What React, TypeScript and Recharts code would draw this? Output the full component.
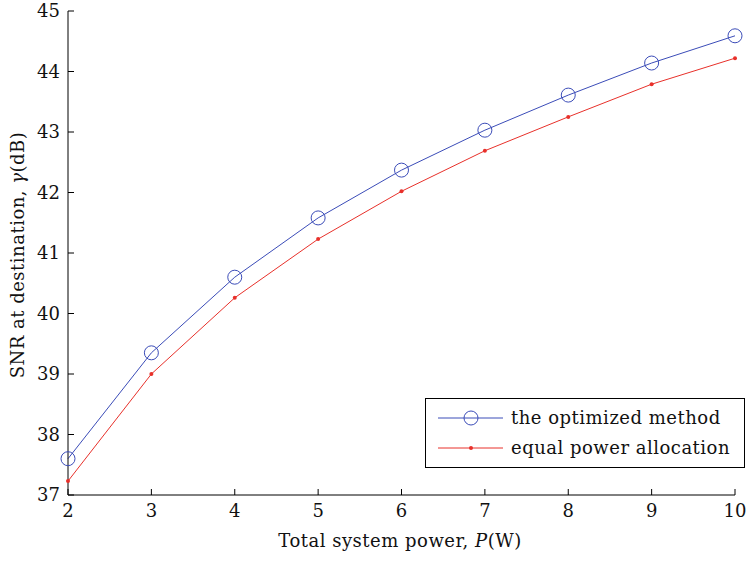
import { Line, LineChart, XAxis, YAxis } from "recharts";

const power = [2, 3, 4, 5, 6, 7, 8, 9, 10];
const optimized = [37.6, 39.35, 40.6, 41.58, 42.37, 43.03, 43.61, 44.14, 44.59];
const equalAlloc = [37.23, 39.0, 40.26, 41.23, 42.02, 42.69, 43.25, 43.79, 44.22];
const yTicks = [37, 38, 39, 40, 41, 42, 43, 44, 45];

const data = power.map((p, i) => ({ p, opt: optimized[i], eq: equalAlloc[i] }));

const FONT = "'DejaVu Serif', 'Liberation Serif', serif";
const FS = 18;
const BLUE = "#3b4cb8";
const RED = "#e8302a";

// ticks point inward like the matlab original, so tick mark + label drawn together
function XTick(props: any) {
  const { x, y, payload } = props;
  return (
    <g>
      <line x1={x} x2={x} y1={y} y2={y - 6} stroke="#000" />
      <text x={x} y={y + 22} textAnchor="middle" fontFamily={FONT} fontSize={FS} fill="#111">
        {payload.value}
      </text>
    </g>
  );
}

function YTick(props: any) {
  const { x, y, payload } = props;
  return (
    <g>
      <line x1={x} x2={x + 6} y1={y} y2={y} stroke="#000" />
      <text x={x - 8} y={y + 6} textAnchor="end" fontFamily={FONT} fontSize={FS} fill="#111">
        {payload.value}
      </text>
    </g>
  );
}

function LegendBox() {
  return (
    <svg width={320} height={70} style={{ position: "absolute", left: 425, top: 398 }}>
      <rect x={0.5} y={0.5} width={319} height={69} fill="#fff" stroke="#000" />
      <line x1={13} x2={78} y1={20} y2={20} stroke={BLUE} strokeWidth={1} />
      <circle cx={46} cy={20} r={7} fill="none" stroke={BLUE} strokeWidth={1} />
      <text x={86} y={26} fontFamily={FONT} fontSize={FS} letterSpacing={0.5} fill="#111">
        the optimized method
      </text>
      <line x1={13} x2={78} y1={50} y2={50} stroke={RED} strokeWidth={1} />
      <circle cx={46} cy={50} r={2} fill={RED} />
      <text x={86} y={56} fontFamily={FONT} fontSize={FS} letterSpacing={0.5} fill="#111">
        equal power allocation
      </text>
    </svg>
  );
}

export default function App() {
  return (
    <div style={{ position: "absolute", left: 0, top: 0, width: 748, height: 561, background: "#fff" }}>
      <LineChart
        width={748}
        height={561}
        data={data}
        margin={{ top: 11, right: 13, bottom: 0, left: 0 }}
      >
        <XAxis
          dataKey="p"
          type="number"
          domain={[2, 10]}
          ticks={power}
          tickSize={0}
          tickMargin={0}
          tickLine={false}
          axisLine={{ stroke: "#000" }}
          tick={<XTick />}
          height={66}
        />
        <YAxis
          type="number"
          domain={[37, 45]}
          ticks={yTicks}
          width={68}
          tickSize={0}
          tickMargin={0}
          tickLine={false}
          axisLine={{ stroke: "#000" }}
          tick={<YTick />}
        />
        <Line
          dataKey="opt"
          stroke={BLUE}
          strokeWidth={1}
          dot={{ r: 7, fill: "none", stroke: BLUE, strokeWidth: 1 }}
          activeDot={false}
          isAnimationActive={false}
        />
        <Line
          dataKey="eq"
          stroke={RED}
          strokeWidth={1}
          dot={{ r: 2, fill: RED, stroke: RED, strokeWidth: 0 }}
          activeDot={false}
          isAnimationActive={false}
        />
      </LineChart>
      <LegendBox />
      <div
        style={{
          position: "absolute",
          left: 0,
          width: 748,
          top: 530,
          paddingLeft: 52,
          boxSizing: "border-box",
          textAlign: "center",
          fontFamily: FONT,
          fontSize: FS,
          letterSpacing: 0.5,
          color: "#111",
          whiteSpace: "nowrap",
        }}
      >
        Total system power, <i>P</i>(W)
      </div>
      <div
        style={{
          position: "absolute",
          left: 17,
          top: 255,
          transform: "translate(-50%, -50%) rotate(-90deg)",
          fontFamily: FONT,
          fontSize: FS,
          letterSpacing: 0.5,
          color: "#111",
          whiteSpace: "nowrap",
        }}
      >
        SNR at destination, <i>γ</i>(dB)
      </div>
    </div>
  );
}
